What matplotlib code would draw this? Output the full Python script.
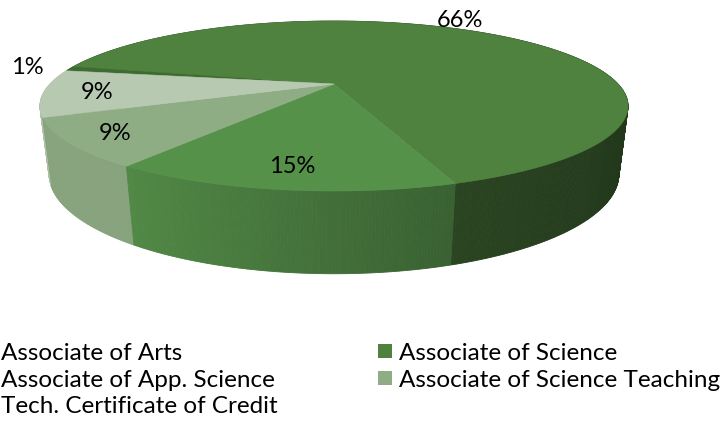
"""
Pizza 3D (estilo Excel) da distribuicao de diplomas.
Desenha a pizza com projecao em perspectiva simples: paredes laterais
primeiro (de tras pra frente), depois as fatias do topo.
"""

import numpy as np
import matplotlib.pyplot as plt
from matplotlib.patches import Polygon, Rectangle
from matplotlib.colors import to_rgb

plt.rcParams["font.family"] = ["Lato", "DejaVu Sans"]

# dados
categorias = ["Associate of Arts", "Associate of Science", "Associate of App. Science",
              "Associate of Science Teaching", "Tech. Certificate of Credit"]
valores = [1, 66, 15, 9, 9]
cores = ["#3e6b34", "#4f813f", "#56914a", "#8fad85", "#b8c9b1"]

# geometria (pixels da figura)
W, H = 723, 427
CX, CY = 334, 85          # ponto central do topo
RX, RY = 284, 79.3        # raios projetados
ESP = 67                  # espessura
K_PERSP = 0.259
M_PERSP = 0.03
ANG0 = 280                # angulo da primeira fatia (horario, a partir do topo)

# rotulos: raio relativo e deslocamento angular
ROT_R = [1.17, 1.18, 0.82, 0.85, 0.82]
ROT_DT = [0, -14, 0, 0, 0]
FATOR_PAREDE = [1.0, 0.8, 1.0, 1.0, 1.0]


def proj(theta, r=1.0, z=0.0):
    t = np.radians(theta)
    X = r * np.sin(t); Y = r * np.cos(t)
    den = 1 + K_PERSP * Y + M_PERSP * z
    return CX + RX * X / den, CY + (-RY * Y + ESP * z) / den


def sombra(cor, f):
    return tuple(np.clip(np.array(to_rgb(cor)) * f, 0, 1))


def main():
    fig = plt.figure(figsize=(W / 100, H / 100), dpi=100)
    ax = fig.add_axes([0, 0, 1, 1])
    ax.set_xlim(0, W); ax.set_ylim(H, 0)
    ax.axis("off")

    v = np.array(valores, dtype=float)
    spans = v / v.sum() * 360
    inicios = ANG0 + np.concatenate([[0], np.cumsum(spans)[:-1]])

    # paredes laterais
    paredes = []
    for i, (a0, sp) in enumerate(zip(inicios, spans)):
        n = max(2, int(sp / 0.5) + 1)
        ts = np.linspace(a0, a0 + sp, n)
        for t0, t1 in zip(ts[:-1], ts[1:]):
            tm = 0.5 * (t0 + t1)
            s = np.sin(np.radians(tm))
            f = np.interp(s, [-1, -0.57, 0.34, 0.94, 1], [0.95, 0.94, 0.66, 0.54, 0.54])
            f *= FATOR_PAREDE[i]
            p = [proj(t0), proj(t1), proj(t1, z=1), proj(t0, z=1)]
            paredes.append((np.cos(np.radians(tm)), p, sombra(cores[i], f)))
    paredes.sort(key=lambda x: -x[0])
    for _, p, c in paredes:
        ax.add_patch(Polygon(p, closed=True, facecolor=c, edgecolor=c, lw=0.6))

    # topo
    for i, (a0, sp) in enumerate(zip(inicios, spans)):
        ts = np.linspace(a0, a0 + sp, max(2, int(sp) + 2))
        p = [proj(0, r=0)] + [proj(t) for t in ts]
        ax.add_patch(Polygon(p, closed=True, facecolor=cores[i], edgecolor=cores[i], lw=0.4))

    # rotulos de porcentagem
    for i, (a0, sp) in enumerate(zip(inicios, spans)):
        x, y = proj(a0 + sp / 2 + ROT_DT[i], r=ROT_R[i])
        ax.text(x, y, f"{valores[i]:.0f}%", fontsize=17, ha="center", va="center",
                color="black")

    # legenda (estilo Excel, 2 colunas; coluna esquerda cortada na borda)
    col_x = [1, 399]
    lin_y = [352, 378.5, 405]
    for i, nome in enumerate(categorias):
        cx = col_x[i % 2]; cy = lin_y[i // 2]
        ax.add_patch(Rectangle((cx - 21, cy - 7), 14, 14, facecolor=cores[i],
                               edgecolor="none"))
        ax.text(cx, cy, nome, fontsize=17.5, ha="left", va="center_baseline", color="black")

    fig.savefig("out.png", dpi=100)
    plt.close(fig)


if __name__ == "__main__":
    main()
